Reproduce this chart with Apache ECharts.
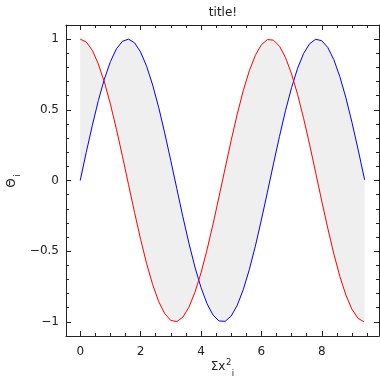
<!DOCTYPE html>
<html>
<head>
<meta charset="utf-8">
<script src="https://cdn.jsdelivr.net/npm/echarts@6/dist/echarts.min.js"></script>
<style>
html,body{margin:0;padding:0;background:#fff;}
#chart{width:380px;height:378px;}
</style>
</head>
<body>
<div id="chart"></div>
<script>
// Data
var xs = [0.0,0.2,0.4,0.6,0.8,1.0,1.2,1.4,1.6,1.8,2.0,2.2,2.4,2.6,2.8,3.0,3.2,3.4,3.6,3.8,4.0,4.2,4.4,4.6,4.8,5.0,5.2,5.4,5.6,5.8,6.0,6.2,6.4,6.6,6.8,7.0,7.2,7.4,7.6,7.8,8.0,8.2,8.4,8.6,8.8,9.0,9.2,9.4,9.42];
var blueVals = [0.000,0.199,0.389,0.565,0.717,0.841,0.932,0.985,1.000,0.974,0.909,0.808,0.675,0.516,0.335,0.141,-0.058,-0.256,-0.443,-0.612,-0.757,-0.872,-0.952,-0.994,-0.996,-0.959,-0.883,-0.773,-0.631,-0.465,-0.279,-0.083,0.117,0.312,0.494,0.657,0.794,0.899,0.968,0.999,0.989,0.941,0.855,0.734,0.585,0.412,0.223,0.025,0.005];
var redVals = [1.000,0.980,0.921,0.825,0.697,0.540,0.362,0.170,-0.029,-0.227,-0.416,-0.589,-0.737,-0.857,-0.942,-0.990,-0.998,-0.967,-0.897,-0.791,-0.654,-0.490,-0.307,-0.112,0.087,0.284,0.469,0.635,0.776,0.886,0.960,0.997,0.993,0.950,0.870,0.754,0.608,0.438,0.252,0.054,-0.146,-0.339,-0.519,-0.679,-0.811,-0.911,-0.975,-1.000,-1.000];
var xMajorTicks = [0,2,4,6,8];
var xMinorTicks = [0.5,1,1.5,2.5,3,3.5,4.5,5,5.5,6.5,7,7.5,8.5,9,9.5];
var yMajorTicks = [-1,-0.5,0,0.5,1];
var yMinorTicks = [-0.9,-0.8,-0.7,-0.6,-0.4,-0.3,-0.2,-0.1,0.1,0.2,0.3,0.4,0.6,0.7,0.8,0.9];
var titleText = 'title!';

var X_MIN = -0.471, X_MAX = 9.896, Y_MIN = -1.1, Y_MAX = 1.1;
var FONT = 'DejaVu Sans';
var INK = '#222';

function fmt(v){ return String(v).replace('-', '\u2212'); }
function zip(a, b){ var out=[]; for (var i=0;i<a.length;i++) out.push([a[i], b[i]]); return out; }

// measure label pieces so the x label is centred under the plot
var mctx = document.createElement('canvas').getContext('2d');
function tw(t, size){ mctx.font = size + 'px "DejaVu Sans"'; return mctx.measureText(t).width; }
var wBase = tw('\u03A3x', 12), wSup = tw('2', 8.5), wSub = tw('i', 8.5);
var labelCenter = 222.5;
var lx0 = labelCenter - (wBase + wSup + wSub + 1) / 2;

function xAx(pos, major, showLine){
  return {
    type:'value', min:X_MIN, max:X_MAX, position:pos,
    axisLine:{show:showLine, onZero:false, lineStyle:{color:INK, width:1}},
    axisTick:{show:true, inside:true, length: major?5:3, customValues: major?xMajorTicks:xMinorTicks, lineStyle:{color:INK,width:1}},
    axisLabel:{show: major && pos==='bottom', customValues:xMajorTicks, margin:10, color:INK, fontSize:12, fontFamily:FONT, formatter:fmt},
    splitLine:{show:false}
  };
}
function yAx(pos, major, showLine){
  return {
    type:'value', min:Y_MIN, max:Y_MAX, position:pos,
    axisLine:{show:showLine, onZero:false, lineStyle:{color:INK, width:1}},
    axisTick:{show:true, inside:true, length: major?5:3, customValues: major?yMajorTicks:yMinorTicks, lineStyle:{color:INK,width:1}},
    axisLabel:{show: major && pos==='left', customValues:yMajorTicks, margin:7, color:INK, fontSize:12, fontFamily:FONT, formatter:fmt},
    splitLine:{show:false}
  };
}

var chart = echarts.init(document.getElementById('chart'), null, {renderer:'canvas'});
chart.setOption({
  animation:false,
  backgroundColor:'#fff',
  grid:{left:66, right:1, top:25, bottom:42, containLabel:false},
  xAxis:[xAx('bottom',true,true), xAx('bottom',false,false), xAx('top',true,true), xAx('top',false,false)],
  yAxis:[yAx('left',true,true), yAx('left',false,false), yAx('right',true,true), yAx('right',false,false)],
  series:[
    {
      type:'custom', xAxisIndex:0, yAxisIndex:0, silent:true, z:1,
      data:[[0,0]],
      renderItem:function(params, api){
        var pts=[];
        for (var i=0;i<xs.length;i++) pts.push(api.coord([xs[i], blueVals[i]]));
        for (var j=xs.length-1;j>=0;j--) pts.push(api.coord([xs[j], redVals[j]]));
        return {type:'polygon', shape:{points:pts}, style:{fill:'#efefef', stroke:null}};
      }
    },
    {
      type:'line', xAxisIndex:0, yAxisIndex:0, z:3, showSymbol:false, symbol:'none',
      data:zip(xs, blueVals), lineStyle:{color:'#0000ff', width:1}, itemStyle:{color:'#0000ff'}
    },
    {
      type:'line', xAxisIndex:0, yAxisIndex:0, z:3, showSymbol:false, symbol:'none',
      data:zip(xs, redVals), lineStyle:{color:'#ff0000', width:1}, itemStyle:{color:'#ff0000'}
    }
  ],
  graphic:[
    {type:'text', x:223, y:13, style:{text:titleText, fill:INK, font:'12px "DejaVu Sans"', align:'center', verticalAlign:'middle'}},
    {type:'text', x:lx0, y:367, style:{text:'\u03A3x', fill:INK, font:'12px "DejaVu Sans"', align:'left', verticalAlign:'middle'}},
    {type:'text', x:lx0 + wBase + 0.5, y:363, style:{text:'2', fill:INK, font:'8.5px "DejaVu Sans"', align:'left', verticalAlign:'middle'}},
    {type:'text', x:lx0 + wBase + wSup + 1, y:374, style:{text:'i', fill:INK, font:'8.5px "DejaVu Sans"', align:'left', verticalAlign:'middle'}},
    {type:'text', x:11.7, y:183, rotation:Math.PI/2, style:{text:'\u0398', fill:INK, font:'12px "DejaVu Sans"', align:'center', verticalAlign:'middle'}},
    {type:'text', x:17.5, y:175.5, rotation:Math.PI/2, style:{text:'i', fill:INK, font:'8.5px "DejaVu Sans"', align:'center', verticalAlign:'middle'}}
  ]
});
</script>
</body>
</html>
